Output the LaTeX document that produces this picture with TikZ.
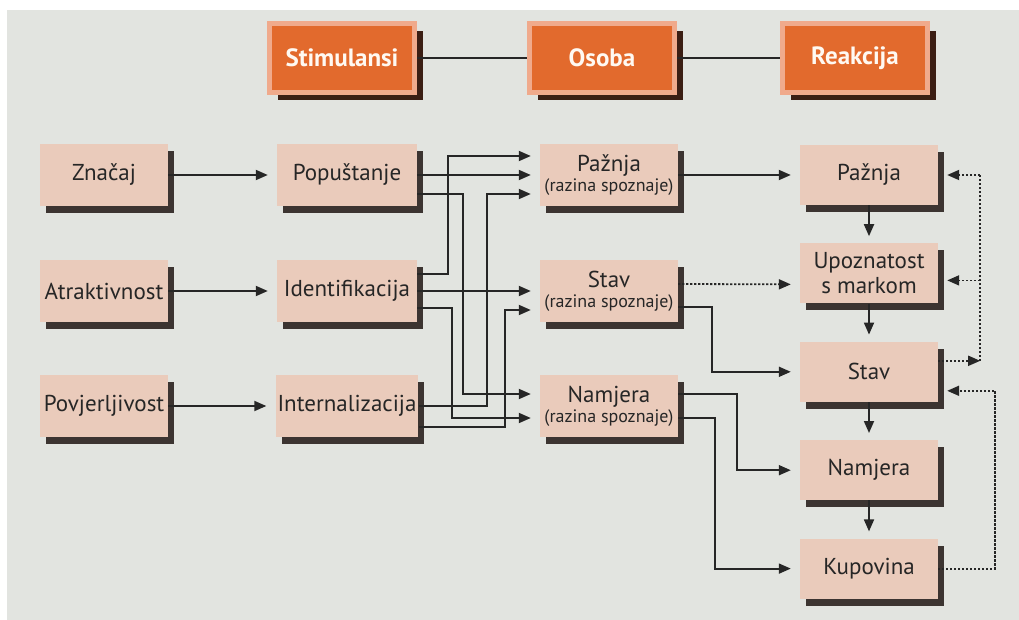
\documentclass[tikz,border=0pt]{standalone}
\usepackage{fontspec}
\setmainfont{PT Sans}
\usepackage{tikz}
\usetikzlibrary{arrows.meta, positioning, shadows}
\definecolor{paper}{HTML}{E2E4E0}
\definecolor{pinkbox}{HTML}{EACBBB}
\definecolor{orng}{HTML}{E26A2D}
\definecolor{salmon}{HTML}{F0AA8C}
\definecolor{bevel}{HTML}{3B1E14}
\definecolor{shad}{HTML}{2B211E}
\definecolor{ink}{HTML}{262626}

\begin{document}
\begin{tikzpicture}[
        x=1pt, y=-1pt,
        node distance=38pt,
        box/.style={fill=pinkbox, minimum width=138pt, minimum height=62pt,
                    inner sep=2pt, align=center, text=ink,
                    font=\fontsize{23}{25}\selectfont,
                    drop shadow={shadow xshift=6pt, shadow yshift=-7pt, fill=shad, opacity=.9}},
        lbox/.style={box, minimum width=128pt},
        mbox/.style={box, minimum width=140pt},
        rbox/.style={box, minimum height=60pt},
        topbox/.style={fill=orng, draw=salmon, line width=5pt, minimum width=145pt,
                    minimum height=69pt, text=white!95!orange,
                    font=\fontsize{25}{27}\selectfont\bfseries,
                    drop shadow={shadow xshift=8pt, shadow yshift=-8pt, fill=bevel, opacity=1}},
        wire/.style={line width=1.8pt, draw=ink},
        arr/.style={wire, -{Triangle[length=12pt, width=10pt]}, shorten >=9pt},
        dots/.style={dash pattern=on 2.2pt off 1.8pt},
        darr/.style={arr, dots},
    ]
        % paper
        \useasboundingbox (0,0) rectangle (1019,620);
        \fill[white] (0,0) rectangle (1019,620);
        \fill[paper] (7,10) rectangle (1019,620);

        % Stimulansi - Osoba - Reakcija
        \node[topbox] (stim) at (342,58) {Stimulansi};
        \node[topbox] (oso)  at (602,58) {Osoba};
        \node[topbox] (rea)  at (855,58) {Reakcija};
        \draw[wire] (stim) -- (oso) -- (rea);

        % izvor
        \node[lbox] (zn)  at (104,175) {Značaj};
        \node[lbox] (atr) at (104,291) {Atraktivnost};
        \node[lbox] (pov) at (104,406) {Povjerljivost};

        \node[mbox] (pop) at (347,175) {Popuštanje};
        \node[mbox] (idf) at (347,291) {Identifikacija};
        \node[mbox] (inz) at (347,406) {Internalizacija};

        \draw[arr] (zn) -- (pop);
        \draw[arr] (atr) -- (idf);
        \draw[arr] (pov) -- (inz);

        % razina spoznaje
        \node[box] (paz) at (609,175) {Pažnja\\[-5pt]{\fontsize{18}{20}\selectfont (razina spoznaje)}};
        \node[box] (stv) at (609,291) {Stav\\[-5pt]{\fontsize{18}{20}\selectfont (razina spoznaje)}};
        \node[box] (nam) at (609,406) {Namjera\\[-5pt]{\fontsize{18}{20}\selectfont (razina spoznaje)}};

        \draw[arr] (pop) -- (paz);
        \draw[arr] ([yshift=-19pt]pop.east) -- ++(46,0) |- ([yshift=12pt]nam.west);
        \draw[arr] ([yshift=17pt]idf.east) -- ++(31,0) |- ([yshift=19pt]paz.west);
        \draw[arr] (idf) -- (stv);
        \draw[arr] ([yshift=-17pt]idf.east) -- ++(35,0) |- ([yshift=-12pt]nam.west);
        \draw[arr] (inz.east) -- ++(68,0) |- ([yshift=-19pt]paz.west);
        \draw[arr] ([yshift=-21pt]inz.east) -- ++(86,0) |- ([yshift=-19pt]stv.west);

        % reakcija
        \node[rbox] (rpaz) at (869,175) {Pažnja};
        \node[rbox, below=of rpaz] (rupo) {Upoznatost\\s markom};
        \node[rbox, below=of rupo] (rstv) {Stav};
        \node[rbox, below=of rstv] (rnam) {Namjera};
        \node[rbox, below=of rnam] (rkup) {Kupovina};

        \draw[arr, shorten >=7pt] (rpaz) -- (rupo);
        \draw[arr, shorten >=7pt] (rupo) -- (rstv);
        \draw[arr, shorten >=7pt] (rstv) -- (rnam);
        \draw[arr, shorten >=7pt] (rnam) -- (rkup);

        \draw[arr] (paz) -- (rpaz);
        \draw[darr] ([yshift=7pt]stv.east) -- ([yshift=-11pt]rupo.west);
        \draw[arr] ([yshift=-16pt]stv.east) -- ++(34,0) |- (rstv);
        \draw[arr] ([yshift=12pt]nam.east) -- ++(59,0) |- (rnam);
        \draw[arr] ([yshift=-12pt]nam.east) -- ++(37,0) |- (rkup);

        % povratna veza
        \coordinate (u1) at ([yshift=-7pt]rupo.east);
        \draw[darr, shorten >=0pt] ([yshift=11pt]rstv.east) -- ++(42,0) coordinate (fb);
        \draw[wire, dots] (fb) -- (fb |- rpaz.east);
        \draw[darr] (fb |- rpaz.east) -- (rpaz.east);
        \draw[darr] (fb |- u1) -- (u1);
        \draw[darr] (rkup.east) -- ++(57,0) |- ([yshift=-19pt]rstv.east);
    \end{tikzpicture}
\end{document}
